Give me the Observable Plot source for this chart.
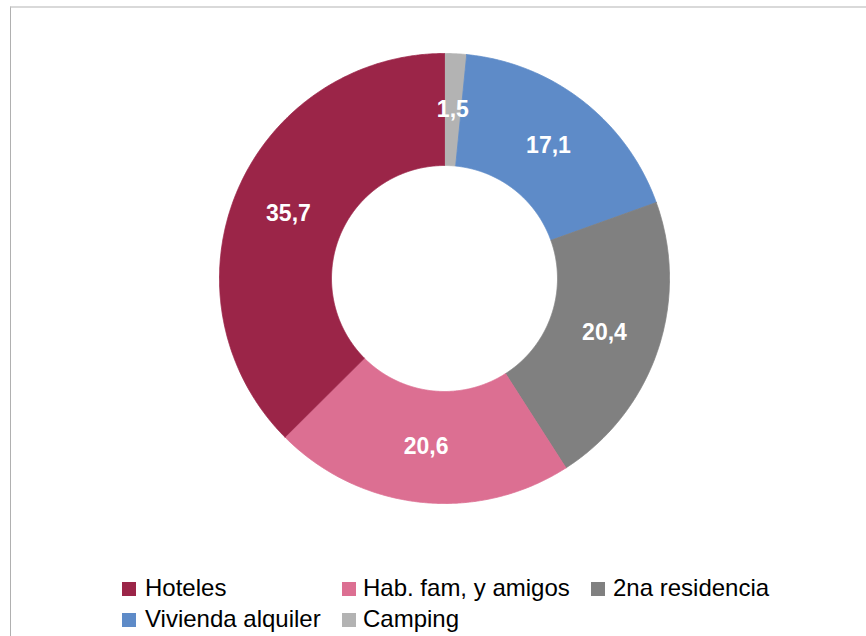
<!DOCTYPE html>
<html>
<head>
<meta charset="utf-8">
<script src="https://cdn.jsdelivr.net/npm/d3@7"></script>
<script src="https://cdn.jsdelivr.net/npm/@observablehq/plot@0.6"></script>
<style>
  html, body { margin: 0; padding: 0; background: #fff; }
  #wrap { position: relative; width: 866px; height: 636px; overflow: hidden; font-family: "Liberation Sans", Arial, sans-serif; }
  #frame { position: absolute; left: 10px; top: 6px; width: 870px; height: 700px; border-top: 2px solid #d9d9d9; border-left: 1px solid #b0b0b0; }
  #chart { position: absolute; left: 0; top: 0; }
  .item { position: absolute; font-size: 24px; color: #000; line-height: 1; white-space: nowrap; }
  .sw { position: absolute; width: 14px; height: 14px; }
</style>
</head>
<body>
<div id="wrap">
  <div id="frame"></div>
  <div id="chart"></div>
  <div id="legend"></div>
</div>
<script>
const names = ["Hoteles", "Hab. fam, y amigos", "2na residencia", "Vivienda alquiler", "Camping"];
const values = [35.7, 20.6, 20.4, 17.1, 1.5];
const colors = ["#9b2548", "#dc6f92", "#808080", "#5e8bc8", "#b3b3b3"];

const innerR = 113 / 225;
const outerR = 1;
const midR = (innerR + outerR) / 2;

// slices drawn clockwise from 12 o'clock in reverse data order
const data = names.map((n, i) => ({name: n, value: values[i]})).reverse();
const arcs = d3.pie().sort(null).value(d => d.value).startAngle(0).endAngle(2 * Math.PI)(data);

const pts = [];
const labels = [];
for (const a of arcs) {
  const a0 = a.startAngle, a1 = a.endAngle;
  const n = Math.max(2, Math.ceil((a1 - a0) / 0.005));
  const poly = [];
  for (let k = 0; k <= n; k++) {
    const t = a0 + (a1 - a0) * k / n;
    poly.push({name: a.data.name, x: outerR * Math.sin(t), y: outerR * Math.cos(t)});
  }
  for (let k = n; k >= 0; k--) {
    const t = a0 + (a1 - a0) * k / n;
    poly.push({name: a.data.name, x: innerR * Math.sin(t), y: innerR * Math.cos(t)});
  }
  poly.push({...poly[0]});
  pts.push(...poly);
  const m = (a0 + a1) / 2;
  labels.push({name: a.data.name, x: midR * Math.sin(m), y: midR * Math.cos(m), text: String(a.data.value).replace(".", ",")});
}

const plot = Plot.plot({
  width: 866,
  height: 560,
  marginLeft: 219,
  marginRight: 197,
  marginTop: 53,
  marginBottom: 57,
  x: {domain: [-1, 1], axis: null},
  y: {domain: [-1, 1], axis: null},
  color: {domain: names, range: colors},
  style: {background: "transparent", fontFamily: "'Liberation Sans', Arial, sans-serif"},
  marks: [
    Plot.line(pts, {x: "x", y: "y", z: "name", fill: "name", stroke: "name", strokeWidth: 0.8, curve: "linear"}),
    Plot.text(labels, {x: "x", y: "y", text: "text", fill: "white", fontSize: 23, fontWeight: "bold"})
  ]
});
document.getElementById("chart").appendChild(plot);

// legend
const pos = [
  {sx: 122, tx: 145, y: 582},
  {sx: 342, tx: 363, y: 582},
  {sx: 591, tx: 613, y: 582},
  {sx: 122, tx: 145, y: 613},
  {sx: 342, tx: 363, y: 613}
];
const leg = document.getElementById("legend");
names.forEach((n, i) => {
  const p = pos[i];
  const sw = document.createElement("div");
  sw.className = "sw";
  sw.style.left = p.sx + "px";
  sw.style.top = p.y + "px";
  sw.style.background = colors[i];
  leg.appendChild(sw);
  const t = document.createElement("div");
  t.className = "item";
  t.style.left = p.tx + "px";
  t.style.top = (p.y - 6) + "px";
  t.textContent = n;
  leg.appendChild(t);
});
</script>
</body>
</html>
